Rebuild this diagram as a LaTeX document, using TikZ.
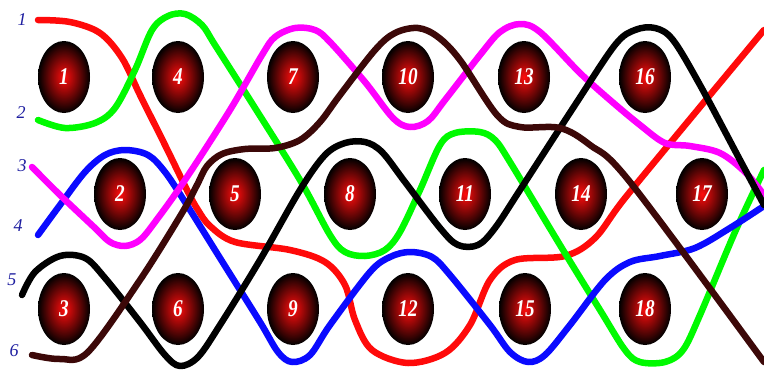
\documentclass[tikz,border=0pt]{standalone}
\usepackage{fontspec}
\setmainfont{Liberation Serif}
\usetikzlibrary{shapes.geometric}
\definecolor{labelblue}{RGB}{30,30,160}
\definecolor{strandbrown}{RGB}{60,8,8}
\definecolor{strandgreen}{RGB}{0,250,0}
\definecolor{strandmagenta}{RGB}{255,0,255}
\definecolor{strandblue}{RGB}{10,10,255}
\definecolor{strandred}{RGB}{255,10,10}
\tikzset{
  strand/.style={line width=6.5pt, line cap=round, line join=round},
  ball/.style={ellipse, minimum width=52pt, minimum height=72pt, inner sep=0pt,
    shade, inner color=red!95!white, outer color=black, text=white,
    font=\fontsize{24}{24}\selectfont\bfseries\itshape},
  endlabel/.style={text=labelblue, inner sep=0pt, font=\fontsize{18}{18}\selectfont\itshape}
}
\begin{document}
\begin{tikzpicture}[x=1pt, y=-1pt]
   \useasboundingbox (0,0) rectangle (764,370);
   % the six strands
   \draw[strand, strandred] plot[smooth, tension=0.55] coordinates {(38,20) (70,22) (100,33) (122,58) (140,95)
     (165,145) (188,192) (198,210) (210,226) (235,242) (290,250) (325,262) (345,285) (355,320) (372,350) (408,363)
     (445,353) (470,325) (490,280) (515,260) (565,256) (595,238) (625,198) (700,107) (764,30)};
   \draw[strand, strandgreen] plot[smooth, tension=0.55] coordinates {(38,120) (65,128) (95,123) (115,108)
     (135,70) (152,30) (168,16) (185,14) (202,25) (215,45) (250,100) (300,180) (330,235) (345,252) (365,256)
     (385,250) (400,232) (420,190) (440,145) (455,133) (480,132) (495,140) (510,162) (560,245) (600,310)
     (625,350) (640,362) (665,362) (683,350) (700,315) (735,232) (764,170)};
   \draw[strand, strandblue] plot[smooth, tension=0.55] coordinates {(38,235) (60,205) (85,172) (105,155)
     (125,150) (148,155) (165,172) (185,202) (220,258) (260,322) (278,352) (292,362) (310,355) (330,325)
     (370,272) (390,257) (410,252) (432,257) (450,275) (490,325) (510,352) (528,362) (545,355) (570,325)
     (605,280) (630,262) (660,256) (695,248) (730,228) (764,206)};
   \draw[strand, strandmagenta] plot[smooth, tension=0.55] coordinates {(32,167) (60,195) (95,228) (110,242)
     (125,246) (140,240) (155,222) (185,180) (230,110) (262,55) (275,37) (295,28) (315,30) (330,42) (365,82)
     (393,118) (410,127) (428,121) (445,100) (480,55) (500,32) (520,24) (540,32) (580,73) (610,100)
     (640,125) (665,143) (690,146) (720,153) (745,172) (764,195)};
   \draw[strand, black] plot[smooth, tension=0.55] coordinates {(22,295) (35,272) (60,256) (85,258) (105,278)
     (140,322) (165,355) (180,366) (198,357) (220,325) (260,260) (300,190) (325,155) (345,143) (365,142)
     (382,152) (405,182) (440,228) (458,245) (478,245) (495,228) (520,190) (575,105) (615,45) (635,30)
     (655,28) (673,40) (700,85) (740,160) (764,205)};
   \draw[strand, strandbrown] plot[smooth, tension=0.55] coordinates {(32,355) (60,359) (88,352) (140,280)
     (182,213) (197,185) (207,166) (222,154) (245,149) (275,148) (300,140) (320,122) (340,95) (375,50) (395,33)
     (418,28) (438,37) (460,60) (497,115) (520,127) (560,128) (590,145) (630,182) (764,362)};
   % the eighteen balls
   \foreach \n/\x/\y in {1/64/77, 4/178/77, 7/293/77, 10/408/77, 13/524/77, 16/645/77,
                         2/120/194, 5/235/194, 8/350/194, 11/465/194, 14/581/194, 17/702/194,
                         3/64/309, 6/178/309, 9/293/309, 12/408/309, 15/525/309, 18/645/309}
     \node[ball] (b\n) at (\x,\y) {\scalebox{0.8}[1]{\n}};
   \foreach \l/\x/\y in {1/22/20, 2/21/113, 3/22/166, 4/18/226, 5/12/280, 6/14/351}
     \node[endlabel] (e\l) at (\x,\y) {\l};
\end{tikzpicture}
\end{document}
